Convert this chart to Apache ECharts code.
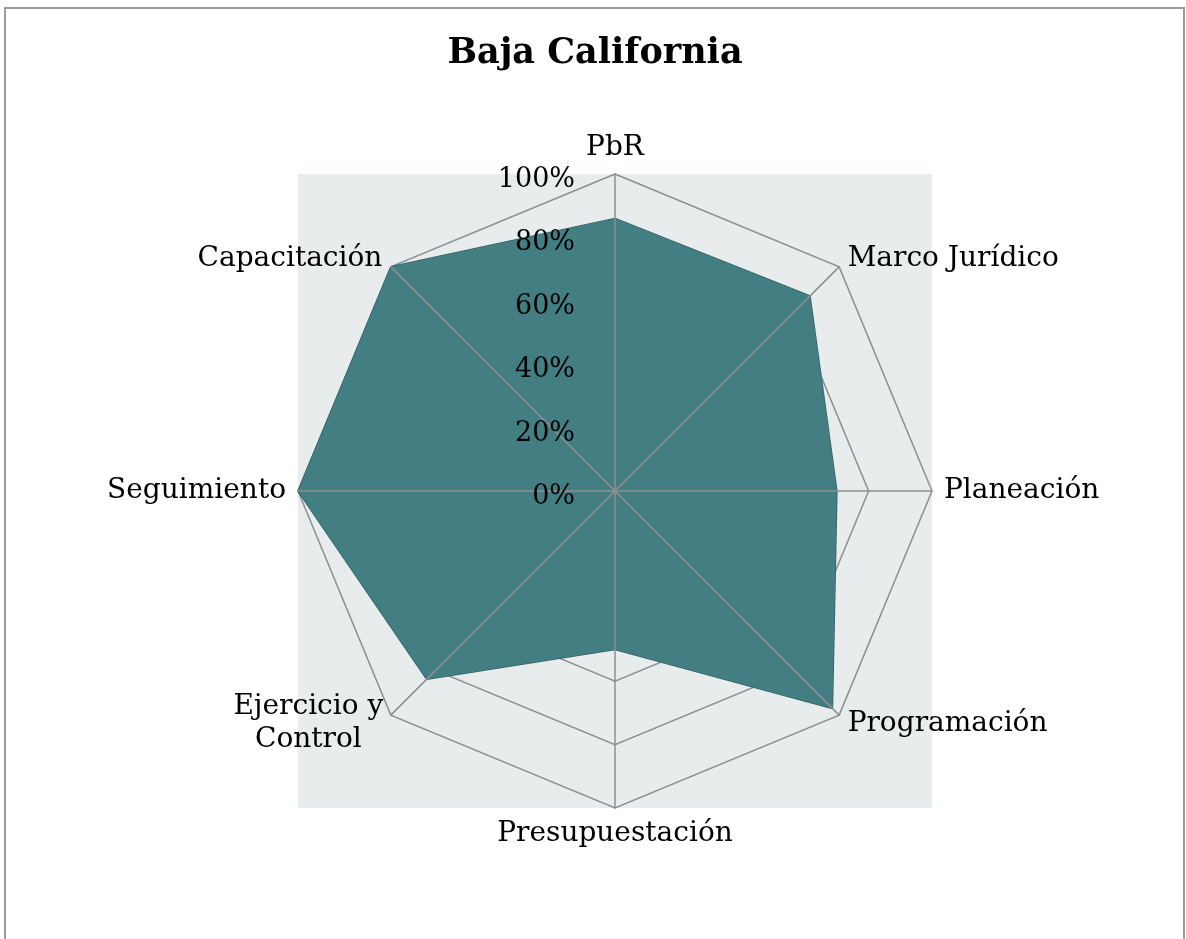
<!DOCTYPE html>
<html>
<head>
<meta charset="utf-8">
<script src="https://cdn.jsdelivr.net/npm/echarts@6/dist/echarts.min.js"></script>
<style>
html,body{margin:0;padding:0;background:#fff;}
#chart{width:1186px;height:939px;}
</style>
</head>
<body>
<div id="chart"></div>
<script>
// Data (clockwise from top, as in the reference)
const categories = ['PbR', 'Marco Jurídico', 'Planeación', 'Programación', 'Presupuestación', 'Ejercicio y\nControl', 'Seguimiento', 'Capacitación'];
const values = [86, 87, 70, 97, 50, 84, 100, 100];
const tickLabels = ['0%', '20%', '40%', '60%', '80%', '100%'];
const titleText = 'Baja California';

const FONT = '"DejaVu Serif", "Liberation Serif", serif';
const CX = 615, CY = 491, R = 317;
const GRID_COLOR = '#8f8f8f';

// ECharts radar runs counter-clockwise; reorder so the chart reads clockwise
const order = [0].concat(categories.map((_, i) => i).slice(1).reverse());
const indicators = order.map(i => ({ name: categories[i], min: 0, max: 100 }));
const ordValues = order.map(i => values[i]);
const overlayIndicators = order.map((i, k) => ({
  name: categories[i], min: 0, max: 100,
  axisLabel: { show: k === 0 }
}));

const chart = echarts.init(document.getElementById('chart'), null, { renderer: 'canvas' });
chart.setOption({
  animation: false,
  backgroundColor: '#ffffff',
  title: {
    text: titleText,
    left: 590,
    top: 31,
    textAlign: 'center',
    textStyle: { fontFamily: FONT, fontWeight: 'bold', fontSize: 35, color: '#000' }
  },
  graphic: [
    {
      type: 'rect', z: -10, silent: true,
      shape: { x: 5, y: 8, width: 1179, height: 1000 },
      style: { fill: 'none', stroke: '#9a9a9a', lineWidth: 2 }
    },
    {
      type: 'rect', z: -5, silent: true,
      shape: { x: CX - R, y: CY - R, width: 2 * R, height: 2 * R },
      style: { fill: '#e8ecec' }
    }
  ],
  radar: [
    {
      z: 0,
      center: [CX, CY],
      radius: R,
      startAngle: 90,
      shape: 'polygon',
      splitNumber: 5,
      indicator: indicators,
      axisName: {
        show: true, color: '#000', fontFamily: FONT, fontSize: 28,
        formatter: function (name) {
          if (name.indexOf('\n') < 0) return name;
          return name.split('\n').map(l => '{c|' + l + '}').join('\n');
        },
        rich: {
          c: { align: 'center', width: 148, lineHeight: 33, fontSize: 28, fontFamily: FONT, color: '#000' }
        }
      },
      axisNameGap: 12,
      axisLine: { show: false },
      axisTick: { show: false },
      axisLabel: { show: false },
      splitLine: { show: true, lineStyle: { color: GRID_COLOR, width: 1.5 } },
      splitArea: { show: false }
    },
    {
      z: 5,
      center: [CX, CY],
      radius: R,
      startAngle: 90,
      shape: 'polygon',
      splitNumber: 5,
      indicator: overlayIndicators,
      axisName: { show: false },
      axisLine: { show: true, lineStyle: { color: GRID_COLOR, width: 1.5 } },
      axisTick: { show: false },
      axisLabel: {
        show: false,
        color: '#000',
        fontFamily: FONT,
        fontSize: 27,
        margin: 40,
        verticalAlign: 'top',
        lineHeight: 12,
        formatter: function (v) { return tickLabels[Math.round(v / 20)] || (v + '%'); }
      },
      splitLine: { show: false },
      splitArea: { show: false }
    }
  ],
  series: [
    {
      type: 'radar',
      radarIndex: 0,
      z: 2,
      symbol: 'none',
      lineStyle: { color: '#2f6266', width: 1.5 },
      areaStyle: { color: '#437e83', opacity: 1 },
      data: [{ value: ordValues, name: titleText }]
    }
  ]
});
</script>
</body>
</html>
